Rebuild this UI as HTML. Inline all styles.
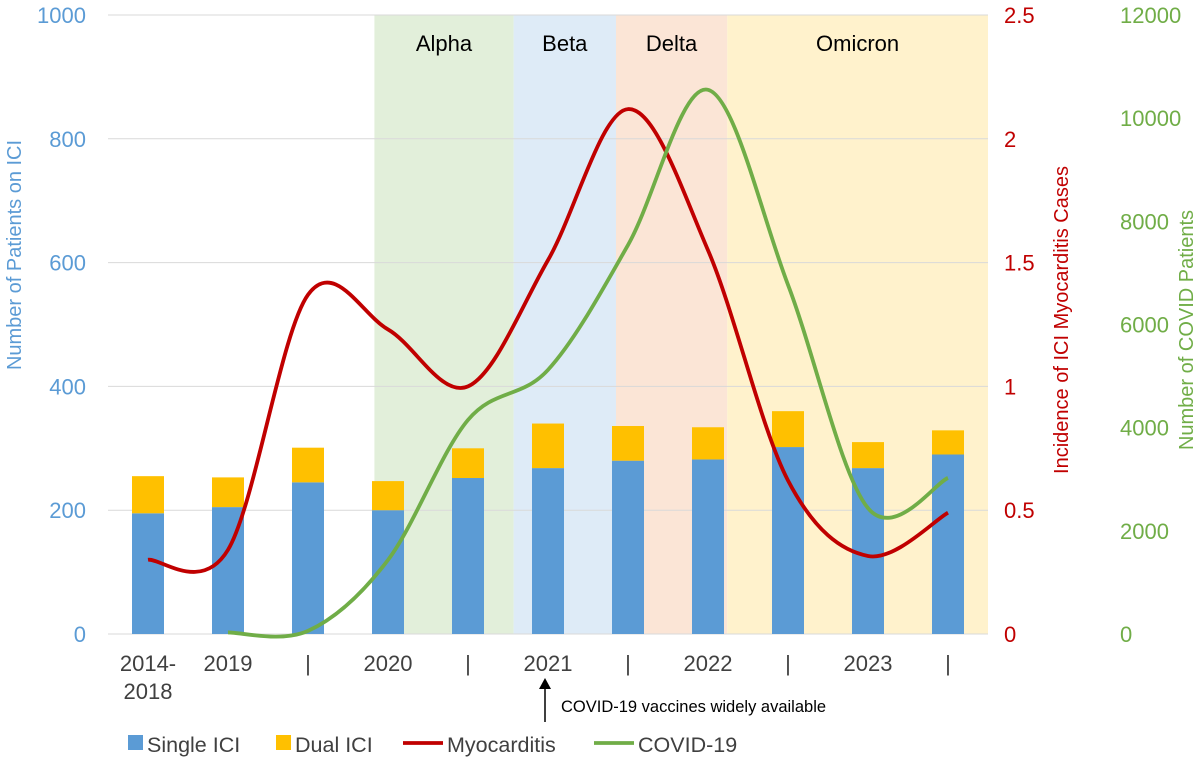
<!DOCTYPE html>
<html><head><meta charset="utf-8"><style>
body{margin:0;background:#fff;}
svg text{font-family:"Liberation Sans",Arial,sans-serif;}
</style></head><body>
<svg id="chart" width="1200" height="764"></svg>
<script>
const categories=["2014-2018","2019","|","2020","|","2021","|","2022","|","2023","|"];
const singleICI=[195,205,245,200,252,268,280,282,302,268,290];
const dualICI=[60,48,56,47,48,72,56,52,58,42,39];
const myocarditis=[0.3,0.34,1.37,1.23,1.0,1.51,2.12,1.55,0.62,0.315,0.49];
const covid=[null,30,60,1435,4150,5120,7540,10550,6770,2440,3025];
const leftTicks=[0,200,400,600,800,1000];
const redTicks=["0","0.5","1","1.5","2","2.5"];
const greenTicks=[0,2000,4000,6000,8000,10000,12000];
const variants=[["Alpha",3.33,5.07,"#e2efda"],["Beta",5.07,6.35,"#deebf7"],["Delta",6.35,7.74,"#fbe5d6"],["Omicron",7.74,11,"#fff2cc"]];

const NS="http://www.w3.org/2000/svg";
const svg=document.getElementById("chart");
const X0=108,STEP=80,Y0=634,H=619;
const xPos=i=>X0+STEP*(i+0.5);
const xEdge=v=>X0+STEP*v;
const yL=v=>Y0-v/1000*H;
const yR=v=>Y0-v/2.5*H;
const yG=v=>Y0-v/12000*H;
function mk(tag,attrs,parent){const e=document.createElementNS(NS,tag);for(const k in attrs)e.setAttribute(k,attrs[k]);(parent||svg).appendChild(e);return e;}
function txt(s,attrs){const e=mk("text",attrs);e.textContent=s;return e;}

variants.forEach(v=>{
  const r=mk("rect",{x:xEdge(v[1]),y:15,width:xEdge(v[2])-xEdge(v[1]),height:H,fill:v[3]});
  
  
  const t=txt(v[0],{x:(xEdge(v[1])+xEdge(v[2]))/2,y:51,"font-size":22,"text-anchor":"middle",fill:"#000"});
  
  
});
leftTicks.forEach(v=>{
  if(v>0){const g=mk("line",{x1:X0,x2:988,y1:yL(v),y2:yL(v),stroke:"#d9d9d9","stroke-width":1});
  
  }
  const t=txt(String(v),{x:86,y:yL(v)+8,"font-size":22,"text-anchor":"end",fill:"#5b9bd5"});
  
  
});
redTicks.forEach((s,i)=>{
  const t=txt(s,{x:1004,y:yR(parseFloat(s))+8,"font-size":22,fill:"#c00000"});
  
  
});
greenTicks.forEach(v=>{
  const t=txt(String(v),{x:1120,y:yG(v)+8,"font-size":22,fill:"#70ad47"});
  
  
});
const ax=mk("line",{x1:X0,x2:988,y1:Y0,y2:Y0,stroke:"#d9d9d9"});



categories.forEach((c,i)=>{
  const bw=32,x=xPos(i)-bw/2;
  const b1=mk("rect",{x:x,y:yL(singleICI[i]),width:bw,height:Y0-yL(singleICI[i]),fill:"#5b9bd5"});
  
  
  const top=singleICI[i]+dualICI[i];
  const b2=mk("rect",{x:x,y:yL(top),width:bw,height:yL(singleICI[i])-yL(top),fill:"#ffc000"});
  
  
  if(c==="2014-2018"){
    const t1=txt("2014-",{x:xPos(i),y:671,"font-size":22,"text-anchor":"middle",fill:"#404040"});
    
    
    const t2=txt("2018",{x:xPos(i),y:699,"font-size":22,"text-anchor":"middle",fill:"#404040"});
    
    
  } else {
    const t=txt(c,{x:xPos(i),y:671,"font-size":22,"text-anchor":"middle",fill:"#404040"});
    
    
  }
});
function smooth(pts){
  let d="M"+pts[0][0]+","+pts[0][1];
  for(let i=0;i<pts.length-1;i++){
    const p0=pts[i-1]||pts[i],p1=pts[i],p2=pts[i+1],p3=pts[i+2]||p2;
    const c1=[p1[0]+(p2[0]-p0[0])/6,p1[1]+(p2[1]-p0[1])/6];
    const c2=[p2[0]-(p3[0]-p1[0])/6,p2[1]-(p3[1]-p1[1])/6];
    d+=" C"+c1+" "+c2+" "+p2;
  }
  return d;
}
const mp=myocarditis.map((v,i)=>[xPos(i),yR(v)]);
const ml=mk("path",{d:smooth(mp),fill:"none",stroke:"#c00000","stroke-width":3.8});


const cp=[];covid.forEach((v,i)=>{if(v!==null)cp.push([xPos(i),yG(v)]);});
const cl=mk("path",{d:smooth(cp),fill:"none",stroke:"#70ad47","stroke-width":3.8});



let t=txt("Number of Patients on ICI",{x:0,y:0,"font-size":20,"text-anchor":"middle",fill:"#5b9bd5",transform:"translate(21,255) rotate(-90)"});


t=txt("Incidence of ICI Myocarditis Cases",{x:0,y:0,"font-size":20,"text-anchor":"middle",fill:"#c00000",transform:"translate(1068,320) rotate(-90)"});


t=txt("Number of COVID Patients",{x:0,y:0,"font-size":20,"text-anchor":"middle",fill:"#70ad47",transform:"translate(1193,330) rotate(-90)"});



const ar=mk("line",{x1:545,x2:545,y1:722,y2:686,stroke:"#000","stroke-width":1.5});


const ah=mk("polygon",{points:"539,689 545,678 551,689",fill:"#000"});


t=txt("COVID-19 vaccines widely available",{x:561,y:712,"font-size":16.5,fill:"#000"});



const legend=[["rect","#5b9bd5","Single ICI",128],["rect","#ffc000","Dual ICI",276],["line","#c00000","Myocarditis",403],["line","#70ad47","COVID-19",594]];
legend.forEach(l=>{
  let m;
  if(l[0]==="rect")m=mk("rect",{x:l[3],y:735,width:15,height:15,fill:l[1]});
  else m=mk("line",{x1:l[3],x2:l[3]+40,y1:743,y2:743,stroke:l[1],"stroke-width":3.8});
  
  
  const tt=txt(l[2],{x:l[3]+(l[0]==="rect"?19:44),y:752,"font-size":21.5,fill:"#404040"});
  
  
});
</script>
</body></html>
